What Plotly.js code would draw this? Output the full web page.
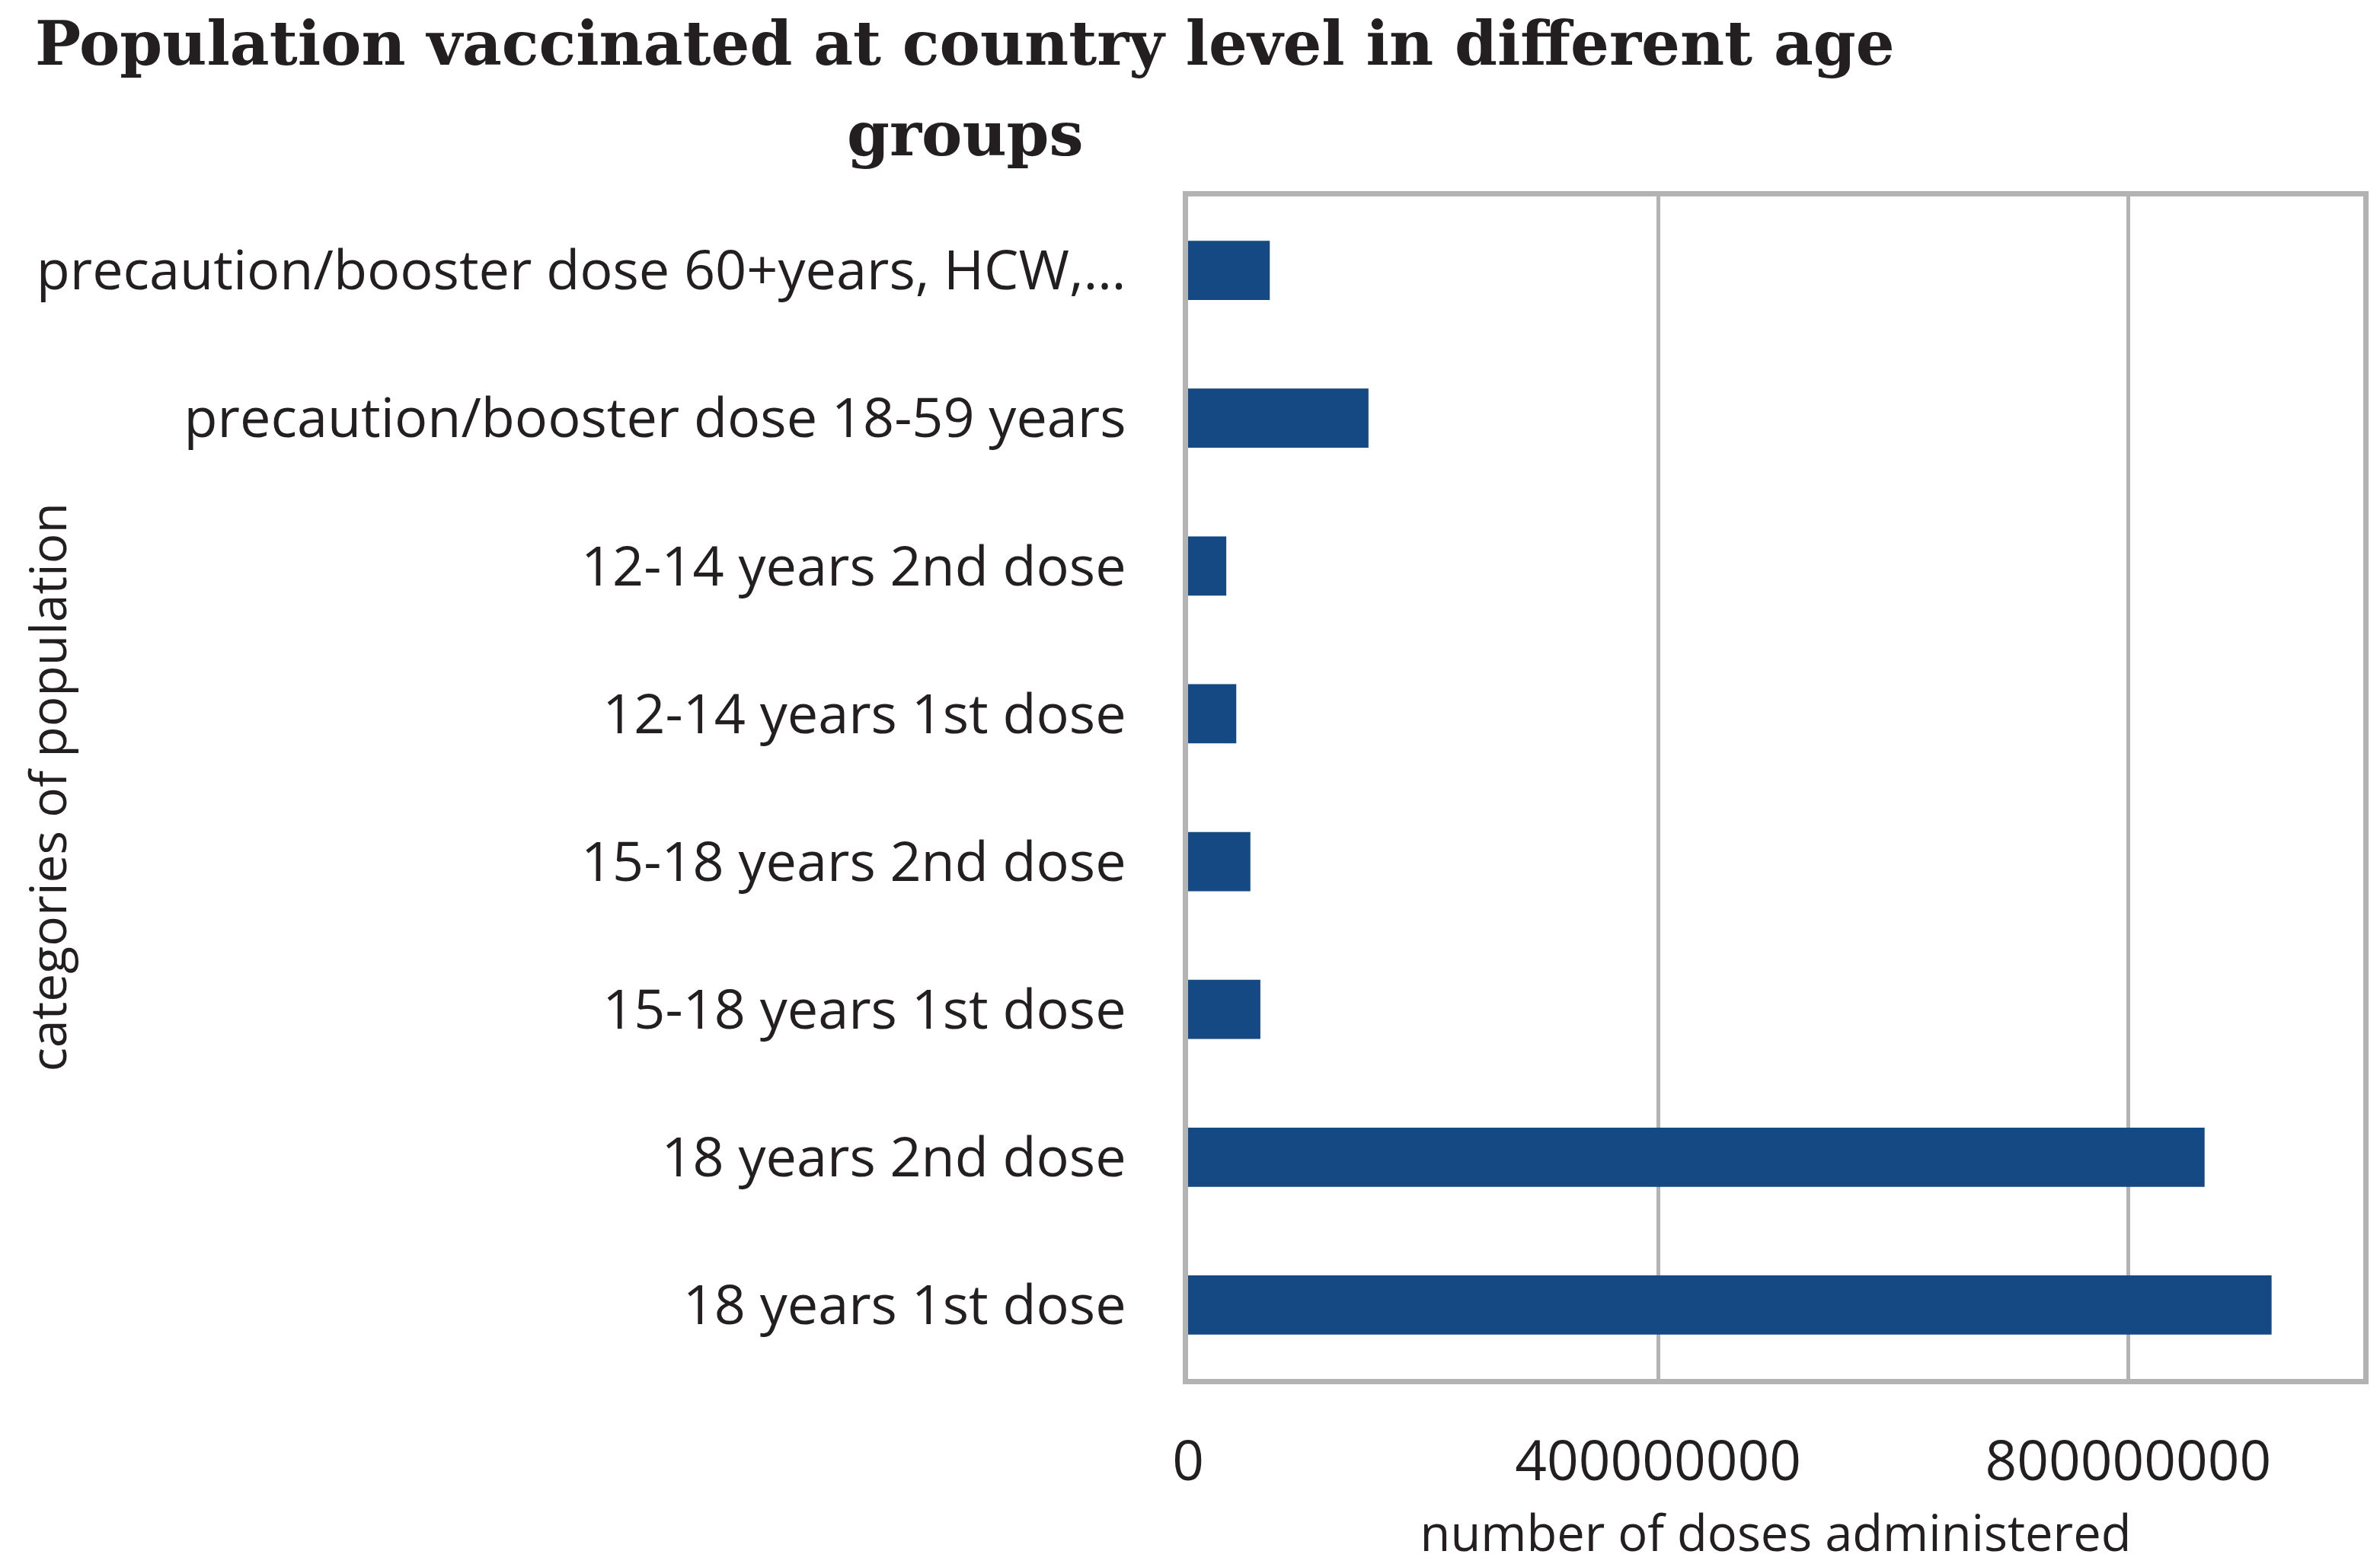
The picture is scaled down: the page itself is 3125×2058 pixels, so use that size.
<!DOCTYPE html>
<html>
<head>
<meta charset="utf-8">
<script src="https://cdn.plot.ly/plotly-3.0.1.min.js"></script>
<style>html,body{margin:0;padding:0;background:#fff;}#chart{width:3125px;height:2058px;}</style>
</head>
<body>
<div id="chart"></div>
<script>
// categories listed bottom-to-top as drawn
const categories = [
  "18 years 1st dose",
  "18 years 2nd dose",
  "15-18 years 1st dose",
  "15-18 years 2nd dose",
  "12-14 years 1st dose",
  "12-14 years 2nd dose",
  "precaution/booster dose 18-59 years",
  "precaution/booster dose 60+years, HCW,\u2026"
];
const doses = [922000000, 865000000, 61500000, 53000000, 41000000, 32500000, 153500000, 69500000];
const xTickVals = [0, 400000000, 800000000];
const xTickText = ["0", "400000000", "800000000"];

const titleLines = ["Population vaccinated at country level in different age", "groups"];
const xTitle = "number of doses administered";
const yTitle = "categories of population";

const frameColor = "#b3b3b3";
const plotTop = 258, plotBottom = 1811, plotLeft = 1560, plotRight = 3103;
const plotH = plotBottom - plotTop, plotW = plotRight - plotLeft;
const titleFont = {family: "DejaVu Serif, serif", size: 80, color: "#231f20", weight: "bold"};
const titleLineTops = [8, 127];

const trace = {
  type: "bar",
  orientation: "h",
  y: categories,
  x: doses,
  marker: {color: "#154984"},
  hoverinfo: "x+y"
};

const titleAnnotations = titleLines.map((t, i) => ({
  text: t,
  xref: "paper",
  yref: "paper",
  x: (1267 - plotLeft) / plotW,
  y: 1 + (plotTop - titleLineTops[i]) / plotH,
  xanchor: "center",
  yanchor: "top",
  align: "center",
  showarrow: false,
  font: titleFont
}));

const layout = {
  width: 3125,
  height: 2058,
  paper_bgcolor: "#ffffff",
  plot_bgcolor: "#ffffff",
  showlegend: false,
  bargap: 0.6,
  margin: {l: plotLeft, r: 3125 - plotRight, t: plotTop, b: 2058 - plotBottom, pad: 0},
  xaxis: {
    range: [0, 1000000000],
    tickvals: xTickVals,
    ticktext: xTickText,
    showgrid: true,
    gridcolor: frameColor,
    gridwidth: 5,
    zeroline: false,
    showline: true,
    linecolor: frameColor,
    linewidth: 7,
    mirror: true,
    ticks: "",
    ticklabelstandoff: 38,
    tickfont: {family: "Open Sans, sans-serif", size: 73, color: "#231f20"},
    title: {
      text: xTitle,
      font: {family: "Open Sans, sans-serif", size: 65, color: "#231f20"},
      standoff: 30
    },
    automargin: false,
    fixedrange: true
  },
  yaxis: {
    type: "category",
    showgrid: false,
    zeroline: false,
    showline: true,
    linecolor: frameColor,
    linewidth: 7,
    mirror: true,
    ticks: "",
    ticklabelstandoff: 60,
    tickfont: {family: "Open Sans, sans-serif", size: 72, color: "#231f20"},
    automargin: false,
    fixedrange: true
  },
  annotations: titleAnnotations.concat([
    {
      text: yTitle,
      xref: "paper",
      yref: "paper",
      x: (60 - plotLeft) / plotW,
      y: 0.5,
      xanchor: "center",
      yanchor: "middle",
      textangle: -90,
      showarrow: false,
      font: {family: "Open Sans, sans-serif", size: 66, color: "#231f20"}
    }
  ])
};

Plotly.newPlot("chart", [trace], layout, {displayModeBar: false, staticPlot: true});
</script>
</body>
</html>
